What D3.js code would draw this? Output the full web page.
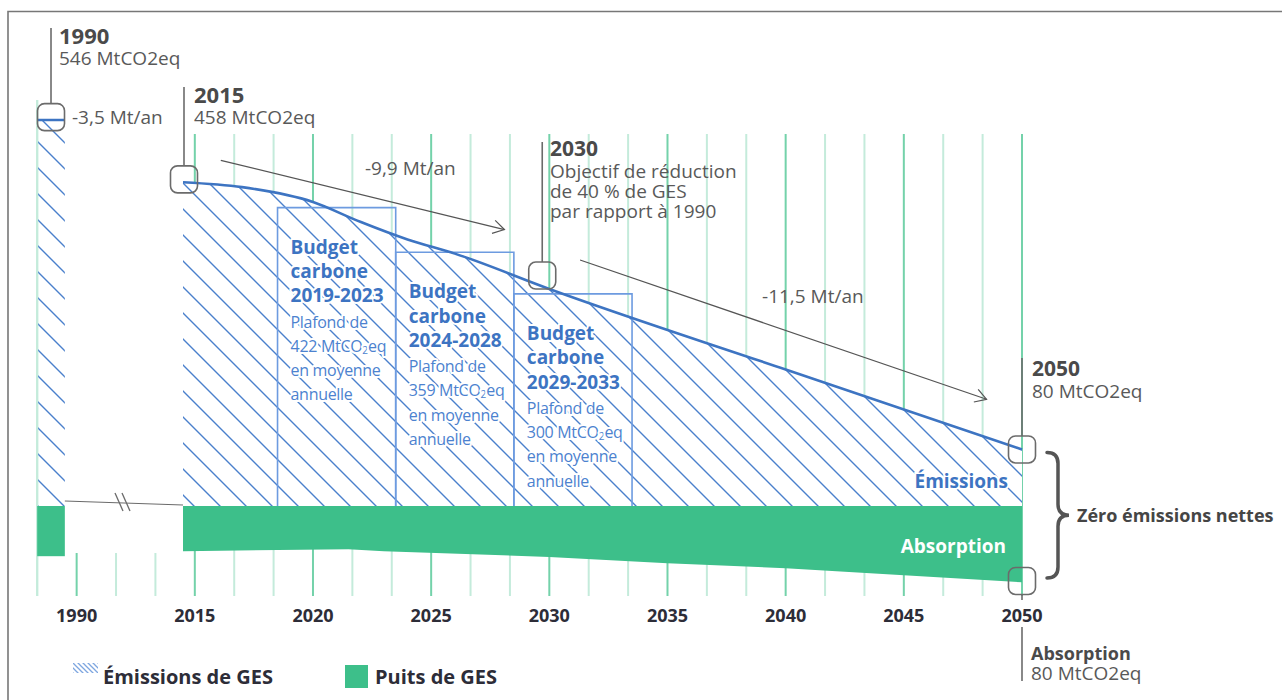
<!DOCTYPE html>
<html>
<head>
<meta charset="utf-8">
<script src="https://cdn.jsdelivr.net/npm/d3@7"></script>
<style>
  body { margin: 0; background: #fff; }
  svg { display: block; font-family: "Open Sans", sans-serif; }
</style>
</head>
<body>
<svg id="chart" width="1282" height="700"></svg>
<script>
// emissions trajectory, MtCO2eq (first point is the start of the 2015 column)
var emissionYears  = [2014.5, 2017, 2020, 2022, 2024, 2026, 2030, 2040, 2050];
var emissionValues = [458, 451, 430, 402, 377, 357, 307, 193, 80];
var emission1990 = 546;

// carbon sink (drawn below the zero line)
var absorptionYears  = [2014.5, 2021.5, 2023, 2030, 2035, 2040, 2050];
var absorptionValues = [64, 61, 64, 72, 81, 88, 108];
var absorption1990 = 71;

// carbon budgets
var budgetPeriods = ["2019-2023", "2024-2028", "2029-2033"];
var budgetStart   = [2019, 2024, 2029];
var budgetEnd     = [2023, 2028, 2033];
var budgetCaps    = [422, 359, 300];

// axis (1990 sits on the 2010 slot, the axis is broken)
var tickSlots  = [2010, 2015, 2020, 2025, 2030, 2035, 2040, 2045, 2050];
var tickLabels = ["1990", "2015", "2020", "2025", "2030", "2035", "2040", "2045", "2050"];

// trend arrows [year, value] -> [year, value]
var trendArrows = [
  { from: [2016.1, 489], to: [2028.1, 391], label: "-9,9 Mt/an", lx: 2022.2, lv: 468 },
  { from: [2031.3, 348], to: [2048.5, 151], label: "-11,5 Mt/an", lx: 2039, lv: 287 }
];

var blue = "#3d74c2", hatchBlue = "#4a80cc", boxBlue = "#6d9be0";
var green = "#3dbf8a", gridDark = "#74d2aa", gridLight = "#c4ebdb";
var gray = "#6b6b6b", textGray = "#595959", headGray = "#4a4a4a", dark = "#2d2d38";

var svg = d3.select("#chart");

var x = d3.scaleLinear().domain([2014.5, 2050]).range([183, 1022]);
var y = d3.scaleLinear().domain([0, 546]).range([506, 120]);
var xOld = d3.scaleBand().domain([1990]).range([x(2008.33), x(2009.5)]);

// patterns
var defs = svg.append("defs");
var hatch = defs.append("pattern")
  .attr("id", "hatch")
  .attr("patternUnits", "userSpaceOnUse")
  .attr("width", 26).attr("height", 26);
hatch.append("path")
  .attr("d", "M-2,-2L28,28M-2,24L2,28M24,-2L28,2")
  .attr("stroke", hatchBlue).attr("stroke-width", 1.4);
var hatchSmall = defs.append("pattern")
  .attr("id", "hatchSmall")
  .attr("patternUnits", "userSpaceOnUse")
  .attr("width", 5).attr("height", 5);
hatchSmall.append("path")
  .attr("d", "M-1,-1L6,6M-1,4L1,6M4,-1L6,1")
  .attr("stroke", "#7ea6e0").attr("stroke-width", 1.3);

// frame
svg.append("path")
  .attr("d", "M8,700V11.5H1282")
  .attr("fill", "none").attr("stroke", "#777").attr("stroke-width", 1.6);

// vertical grid
var gridSlots = d3.range(26).map(function (i) { return 2015 + (i - 4) * 5 / 3; });
svg.append("g").selectAll("line")
  .data(gridSlots)
  .enter().append("line")
  .attr("x1", function (d) { return x(d); })
  .attr("x2", function (d) { return x(d); })
  .attr("y1", function (d, i) { return i === 0 ? 100 : (d < 2014.5 ? 553 : 134); })
  .attr("y2", 596)
  .attr("stroke", function (d, i) { return (i - 1) % 3 === 0 ? gridDark : gridLight; })
  .attr("stroke-width", 2);

// emissions area
var emData = emissionYears.map(function (d, i) { return [d, emissionValues[i]]; });
var area = d3.area()
  .x(function (d) { return x(d[0]); })
  .y0(y(0))
  .y1(function (d) { return y(d[1]); })
  .curve(d3.curveMonotoneX);
svg.append("path").datum(emData).attr("d", area).attr("fill", "#fff");
svg.append("path").datum(emData).attr("d", area).attr("fill", "url(#hatch)");

// 1990 column
svg.append("rect")
  .attr("x", xOld(1990)).attr("width", xOld.bandwidth())
  .attr("y", y(emission1990)).attr("height", y(0) - y(emission1990))
  .attr("fill", "url(#hatch)");
svg.append("line")
  .attr("x1", xOld(1990)).attr("x2", xOld(1990))
  .attr("y1", 100).attr("y2", 596)
  .attr("stroke", gridLight).attr("stroke-width", 2);
svg.append("rect")
  .attr("x", xOld(1990)).attr("width", xOld.bandwidth())
  .attr("y", y(0)).attr("height", y(0) - y(absorption1990))
  .attr("fill", green);
svg.append("line")
  .attr("x1", xOld(1990)).attr("x2", xOld(1990) + xOld.bandwidth())
  .attr("y1", y(emission1990)).attr("y2", y(emission1990))
  .attr("stroke", blue).attr("stroke-width", 2.5);

// absorption band
var abData = absorptionYears.map(function (d, i) { return [d, absorptionValues[i]]; });
svg.append("path").datum(abData)
  .attr("d", d3.area()
    .x(function (d) { return x(d[0]); })
    .y0(y(0))
    .y1(function (d) { return y(-d[1]); }))
  .attr("fill", green);

// broken axis connector
var gapY0 = y(0) - 5, gapY1 = y(0) - 1;
svg.append("line")
  .attr("x1", xOld(1990) + xOld.bandwidth()).attr("y1", gapY0)
  .attr("x2", x(2014.5)).attr("y2", gapY1)
  .attr("stroke", gray).attr("stroke-width", 1.2);
[119, 126].forEach(function (bx) {
  svg.append("line")
    .attr("x1", bx - 4).attr("y1", gapY0 - 8)
    .attr("x2", bx + 4).attr("y2", gapY0 + 10)
    .attr("stroke", gray).attr("stroke-width", 1.3);
});

// budget boxes
budgetPeriods.forEach(function (p, i) {
  var x0 = x(budgetStart[i] - 0.5), x1 = x(budgetEnd[i] + 0.5), top = y(budgetCaps[i]);
  svg.append("path")
    .attr("d", "M" + x0 + "," + y(0) + "V" + top + "H" + x1 + "V" + y(0))
    .attr("fill", "none").attr("stroke", boxBlue).attr("stroke-width", 1.6);
  var tx = x0 + 13, ty = top + 46, lh = 24.3;
  var g = svg.append("g")
    .attr("paint-order", "stroke")
    .attr("stroke", "#fff").attr("stroke-width", 4).attr("stroke-linejoin", "round");
  var t = g.append("text").attr("x", tx).attr("y", ty);
  ["Budget", "carbone", p].forEach(function (s, j) {
    t.append("tspan").attr("x", tx).attr("dy", j ? lh : 0)
      .attr("font-size", 19).attr("font-weight", 700).attr("fill", blue).text(s);
  });
  ["Plafond de", null, "en moyenne", "annuelle"].forEach(function (s, j) {
    var dy = j ? lh : lh + 1;
    if (s) {
      t.append("tspan").attr("x", tx).attr("dy", dy)
        .attr("font-size", 16).attr("fill", "#4c82cf").attr("letter-spacing", -0.3).text(s);
      return;
    }
    t.append("tspan").attr("x", tx).attr("dy", dy)
      .attr("font-size", 16).attr("fill", "#4c82cf").attr("letter-spacing", -0.3)
      .text(budgetCaps[i] + " MtCO");
    t.append("tspan").attr("dy", 2)
      .attr("font-size", 10).attr("fill", "#4c82cf").text("2");
    t.append("tspan").attr("dy", -2)
      .attr("font-size", 16).attr("fill", "#4c82cf").attr("letter-spacing", -0.3).text("eq");
  });
});

// emission line
svg.append("path").datum(emData)
  .attr("d", d3.line()
    .x(function (d) { return x(d[0]); })
    .y(function (d) { return y(d[1]); })
    .curve(d3.curveMonotoneX))
  .attr("fill", "none").attr("stroke", blue).attr("stroke-width", 2.6);

// trend arrows
trendArrows.forEach(function (a) {
  var x0 = x(a.from[0]), y0 = y(a.from[1]), x1 = x(a.to[0]), y1 = y(a.to[1]);
  var ang = Math.atan2(y1 - y0, x1 - x0), L = 13;
  svg.append("line").attr("x1", x0).attr("y1", y0).attr("x2", x1).attr("y2", y1)
    .attr("stroke", "#555").attr("stroke-width", 1.2);
  svg.append("path")
    .attr("d", "M" + (x1 + L * Math.cos(ang + 2.6)) + "," + (y1 + L * Math.sin(ang + 2.6)) +
      "L" + x1 + "," + y1 +
      "L" + (x1 + L * Math.cos(ang - 2.6)) + "," + (y1 + L * Math.sin(ang - 2.6)))
    .attr("fill", "none").attr("stroke", "#555").attr("stroke-width", 1.2);
  svg.append("text").attr("x", x(a.lx)).attr("y", y(a.lv))
    .attr("font-size", 19).attr("fill", textGray).text(a.label);
});

// callout markers
var markers = [
  { cx: xOld(1990) + xOld.bandwidth() / 2, v: 550, lineTo: 28 },
  { cx: x(2014.5) + 1, v: 462, lineTo: 87 },
  { cx: x(2029.7), v: 326, lineTo: 142 },
  { cx: x(2050), v: 80, lineTo: 358 },
  { cx: x(2050), v: -106, lineTo: 600 }
];
markers.forEach(function (m) {
  var cy = y(m.v), s = 27;
  var edge = m.lineTo < cy ? cy - s / 2 : cy + s / 2;
  svg.append("line").attr("x1", m.cx).attr("x2", m.cx).attr("y1", edge).attr("y2", m.lineTo)
    .attr("stroke", gray).attr("stroke-width", 1.6);
  svg.append("rect").attr("x", m.cx - s / 2).attr("y", cy - s / 2)
    .attr("width", s).attr("height", s).attr("rx", 7)
    .attr("fill", "none").attr("stroke", gray).attr("stroke-width", 1.6);
});
svg.append("line").attr("x1", x(2050)).attr("x2", x(2050)).attr("y1", 627).attr("y2", 681)
  .attr("stroke", gray).attr("stroke-width", 1.6);

// callout texts (one text element per block)
function callout(tx, ty, head, lines, headSize, gap) {
  var t = svg.append("text").attr("x", tx).attr("y", ty);
  t.append("tspan").attr("x", tx)
    .attr("font-size", headSize).attr("font-weight", 700).attr("fill", headGray).text(head);
  lines.forEach(function (s, i) {
    t.append("tspan").attr("x", tx).attr("dy", i ? 20 : gap)
      .attr("font-size", 19).attr("fill", textGray).text(s);
  });
}
callout(59, 44, "1990", [emission1990 + " MtCO2eq"], 22, 21);
callout(194, 103, "2015", ["458 MtCO2eq"], 22, 21);
callout(550, 156, "2030", ["Objectif de réduction", "de 40 % de GES", "par rapport à 1990"], 21, 22);
callout(1032, 376, "2050", ["80 MtCO2eq"], 21, 22);
callout(1031, 660, "Absorption", ["80 MtCO2eq"], 18, 20);

svg.append("text").attr("x", 72).attr("y", 124)
  .attr("font-size", 19).attr("fill", textGray).text("-3,5 Mt/an");

// in-chart labels
svg.append("text").attr("x", 1008).attr("y", 488).attr("text-anchor", "end")
  .attr("font-size", 19).attr("font-weight", 700).attr("fill", blue)
  .attr("paint-order", "stroke").attr("stroke", "#fff").attr("stroke-width", 4)
  .text("Émissions");
svg.append("text").attr("x", 1006).attr("y", 553).attr("text-anchor", "end")
  .attr("font-size", 19).attr("font-weight", 700).attr("fill", "#fff")
  .text("Absorption");

// brace
var bTop = y(80) + 3, bBot = y(-106) - 3, bMid = (bTop + bBot) / 2;
var bx0 = x(2050) + 25, bx1 = bx0 + 11, bTip = bx0 + 22;
svg.append("path")
  .attr("d", "M" + bx0 + "," + bTop + "Q" + bx1 + "," + bTop + " " + bx1 + "," + (bTop + 11) +
    "V" + (bMid - 11) + "Q" + bx1 + "," + bMid + " " + bTip + "," + bMid +
    "Q" + bx1 + "," + bMid + " " + bx1 + "," + (bMid + 11) +
    "V" + (bBot - 11) + "Q" + bx1 + "," + bBot + " " + bx0 + "," + bBot)
  .attr("fill", "none").attr("stroke", "#555").attr("stroke-width", 3.5)
  .attr("stroke-linecap", "round");
svg.append("text").attr("x", 1077).attr("y", 522)
  .attr("font-size", 18).attr("font-weight", 700).attr("fill", "#454545")
  .text("Zéro émissions nettes");

// x axis labels
svg.append("g").selectAll("text")
  .data(tickSlots)
  .enter().append("text")
  .attr("x", function (d) { return x(d); })
  .attr("y", 622)
  .attr("text-anchor", "middle")
  .attr("font-size", 18).attr("font-weight", 700).attr("fill", dark)
  .text(function (d, i) { return tickLabels[i]; });

// legend
svg.append("rect").attr("x", 73).attr("y", 663).attr("width", 25).attr("height", 10)
  .attr("fill", "url(#hatchSmall)");
svg.append("text").attr("x", 103).attr("y", 684)
  .attr("font-size", 20).attr("font-weight", 700).attr("fill", dark).text("Émissions de GES");
svg.append("rect").attr("x", 345).attr("y", 665).attr("width", 23).attr("height", 23)
  .attr("fill", green);
svg.append("text").attr("x", 375).attr("y", 684)
  .attr("font-size", 20).attr("font-weight", 700).attr("fill", dark).text("Puits de GES");
</script>
</body>
</html>
